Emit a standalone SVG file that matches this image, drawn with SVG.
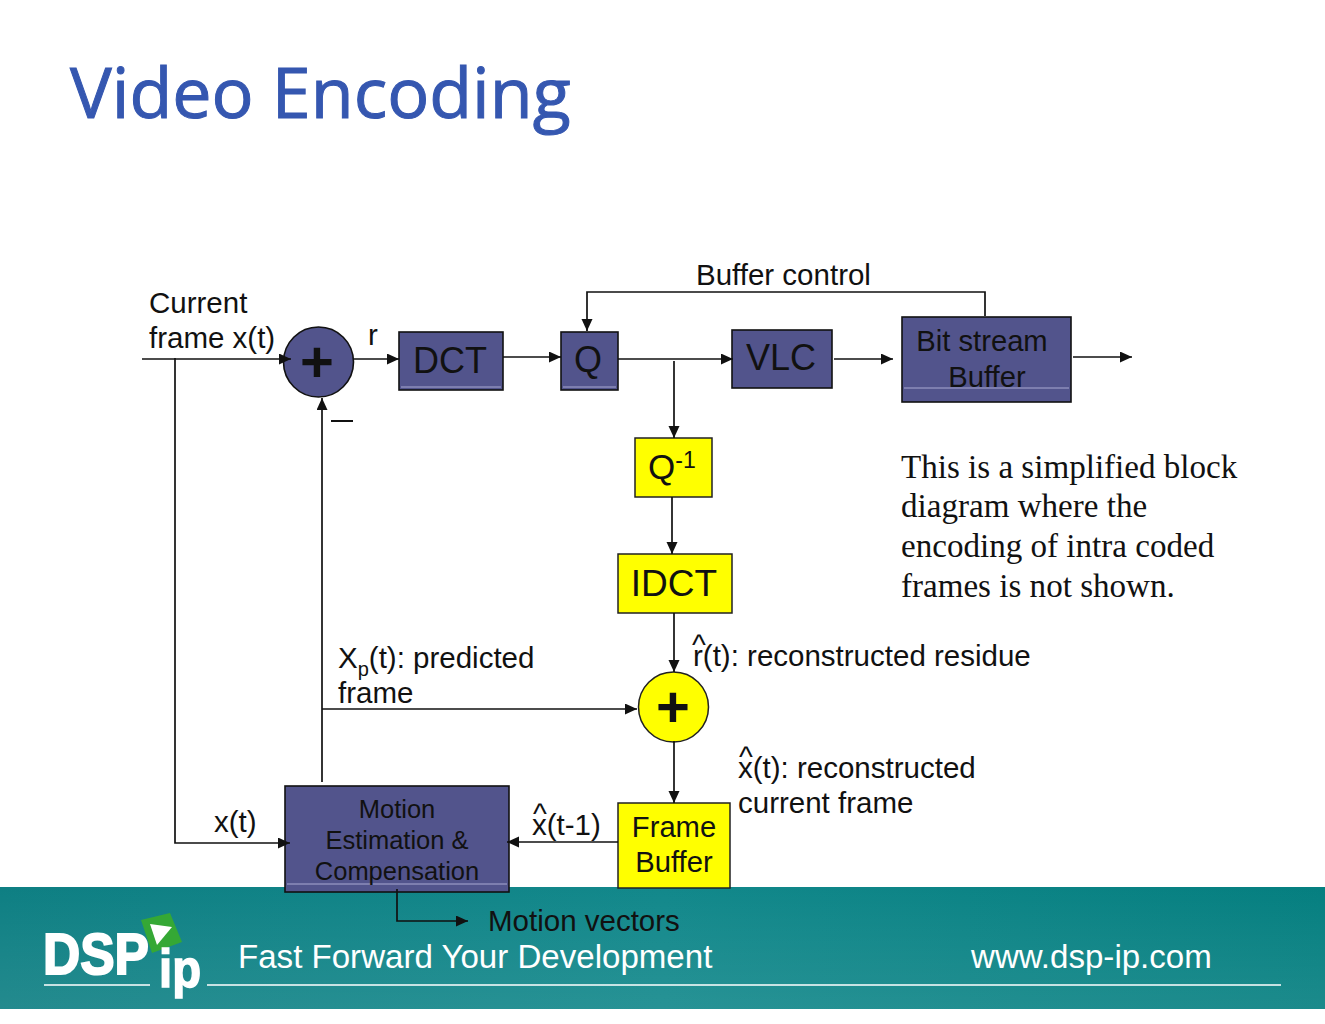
<svg xmlns="http://www.w3.org/2000/svg" width="1325" height="1024" viewBox="0 0 1325 1024">
<style>
text{font-family:"Liberation Sans",Arial,sans-serif;fill:#111}
.n{fill:#52548c;stroke:#111;stroke-width:1.6}
.y{fill:#ffff00;stroke:#222;stroke-width:1.5}
.c{fill:none;stroke:#111;stroke-width:1.7}
.hl{stroke:#a9a9d2;stroke-width:1}
.t{font-size:25.500px;text-anchor:middle}
.b{font-size:36px;text-anchor:middle}
.m{font-size:29.200px;text-anchor:middle}
.lb{font-size:29.500px}
.p{font-size:58px;font-weight:bold;text-anchor:middle}
.f{fill:#fff;font-size:33.100px}
.s{font-family:"Liberation Serif",serif;font-size:33.100px}
</style>
<defs>
<marker id="a" markerWidth="14" markerHeight="12" refX="12" refY="5.500" orient="auto" markerUnits="userSpaceOnUse"><path d="M0 0L12 5.500L0 11Z" fill="#111"/></marker>
<linearGradient id="g" x1="0" y1="0" x2="1" y2="0"><stop offset="0" stop-color="#0e7f83"/><stop offset=".5" stop-color="#12888b"/><stop offset="1" stop-color="#057f80"/></linearGradient>
<linearGradient id="v" x1="0" y1="0" x2="0" y2="1"><stop offset="0" stop-color="#fff" stop-opacity="0"/><stop offset="1" stop-color="#fff" stop-opacity=".09"/></linearGradient>
</defs>
<rect width="1325" height="1024" fill="#fff"/>
<text x="70" y="118" style="font-family:'Open Sans','DejaVu Sans',sans-serif;font-size:70px;fill:#3557b0;stroke:#3557b0;stroke-width:1">Video Encoding</text>
<g id="footer">
<rect y="887" width="1325" height="122" fill="url(#g)"/>
<rect y="887" width="1325" height="122" fill="url(#v)"/>
<path d="M44 985H150M207 985H1281" stroke="#fff" stroke-width="1.600"/>
<text x="238" y="968" class="f">Fast Forward Your Development</text>
<text x="971" y="968" class="f">www.dsp-ip.com</text>
</g>
<g id="logo">
<path d="M141 920L170 913L182 942L152 953Z" fill="#35a835"/>
<path d="M150 924L172 927L157 945Z" fill="#fff"/>
<text x="43" y="974" textLength="106" lengthAdjust="spacingAndGlyphs" style="font-weight:bold;font-size:58px;fill:#fff;stroke:#fff;stroke-width:2">DSP</text>
<text x="159" y="987" textLength="42" lengthAdjust="spacingAndGlyphs" style="font-weight:bold;font-size:53px;fill:#fff;stroke:#fff;stroke-width:1.500">ip</text>
</g>
<g id="sum1"><circle class="n" cx="318.500" cy="362" r="35"/><text class="p" x="317" y="382">+</text></g>
<g id="dct"><rect class="n" x="399" y="332" width="104" height="58"/><path class="hl" d="M401 387H501"/><text class="b" x="450" y="373">DCT</text></g>
<g id="q"><rect class="n" x="561" y="332" width="57" height="58"/><path class="hl" d="M563 387H616"/><text class="b" x="588" y="372">Q</text></g>
<g id="vlc"><rect class="n" x="732" y="330" width="100" height="58"/><text class="b" x="781" y="370">VLC</text></g>
<g id="bitstream"><rect class="n" x="902" y="317" width="169" height="85"/><path class="hl" d="M904 388H1069"/><text class="m" x="982" y="351">Bit stream</text><text class="m" x="987" y="387">Buffer</text></g>
<g id="qinv"><rect class="y" x="635" y="438" width="77" height="59"/><text x="648" y="479" style="font-size:35px">Q<tspan font-size="23" dy="-11">-1</tspan></text></g>
<g id="idct"><rect class="y" x="618" y="554" width="114" height="59"/><text class="b" x="674" y="596" style="font-size:37px">IDCT</text></g>
<g id="sum2"><circle class="y" cx="673.500" cy="707" r="35"/><text class="p" x="673" y="727">+</text></g>
<g id="framebuffer"><rect class="y" x="618" y="803" width="112" height="85"/><text class="m" x="674" y="837">Frame</text><text class="m" x="674" y="872">Buffer</text></g>
<g id="motion"><rect class="n" x="285" y="786" width="224" height="106"/><path class="hl" d="M287 884H507"/><text class="t" x="397" y="818">Motion</text><text class="t" x="397" y="849">Estimation &amp;</text><text class="t" x="397" y="880">Compensation</text></g>
<g id="connectors">
<path class="c" d="M142 359H291" marker-end="url(#a)"/>
<path class="c" d="M175 358V843H290" marker-end="url(#a)"/>
<path class="c" d="M354 359H399" marker-end="url(#a)"/>
<path class="c" d="M503 357H561" marker-end="url(#a)"/>
<path class="c" d="M618 359H733" marker-end="url(#a)"/>
<path class="c" d="M834 359H893" marker-end="url(#a)"/>
<path class="c" d="M1073 357H1132" marker-end="url(#a)"/>
<path class="c" d="M985 316V292H587V331" marker-end="url(#a)"/>
<path class="c" d="M674 361V438" marker-end="url(#a)"/>
<path class="c" d="M672 497V554" marker-end="url(#a)"/>
<path class="c" d="M674 613V672" marker-end="url(#a)"/>
<path class="c" d="M674 741V803" marker-end="url(#a)"/>
<path class="c" d="M322 782V398" marker-end="url(#a)"/>
<path class="c" d="M322 709H637" marker-end="url(#a)"/>
<path class="c" d="M618 842H507" marker-end="url(#a)"/>
<path class="c" d="M397 889V921H468" marker-end="url(#a)"/>
<path d="M331 421H353" stroke="#111" stroke-width="2"/>
</g>
<g id="labels">
<text class="lb" x="149" y="313">Current</text>
<text class="lb" x="149" y="348">frame x(t)</text>
<text class="lb" x="368" y="345">r</text>
<text class="lb" x="696" y="285">Buffer control</text>
<text class="lb" x="338" y="668">X<tspan font-size="20" dy="8">p</tspan><tspan dy="-8">(t): predicted</tspan></text>
<text class="lb" x="338" y="703">frame</text>
<text class="lb" x="693" y="666">r(t): reconstructed residue</text>
<text class="lb" x="692" y="655">^</text>
<text class="lb" x="738" y="778">x(t): reconstructed</text>
<text class="lb" x="739" y="767">^</text>
<text class="lb" x="738" y="813">current frame</text>
<text class="lb" x="214" y="832">x(t)</text>
<text class="lb" x="532" y="835">x(t-1)</text>
<text class="lb" x="533" y="824">^</text>
<text class="lb" x="488" y="931">Motion vectors</text>
<text class="s" x="901" y="478">This is a simplified block</text>
<text class="s" x="901" y="517">diagram where the</text>
<text class="s" x="901" y="557">encoding of intra coded</text>
<text class="s" x="901" y="597">frames is not shown.</text>
</g>
</svg>
